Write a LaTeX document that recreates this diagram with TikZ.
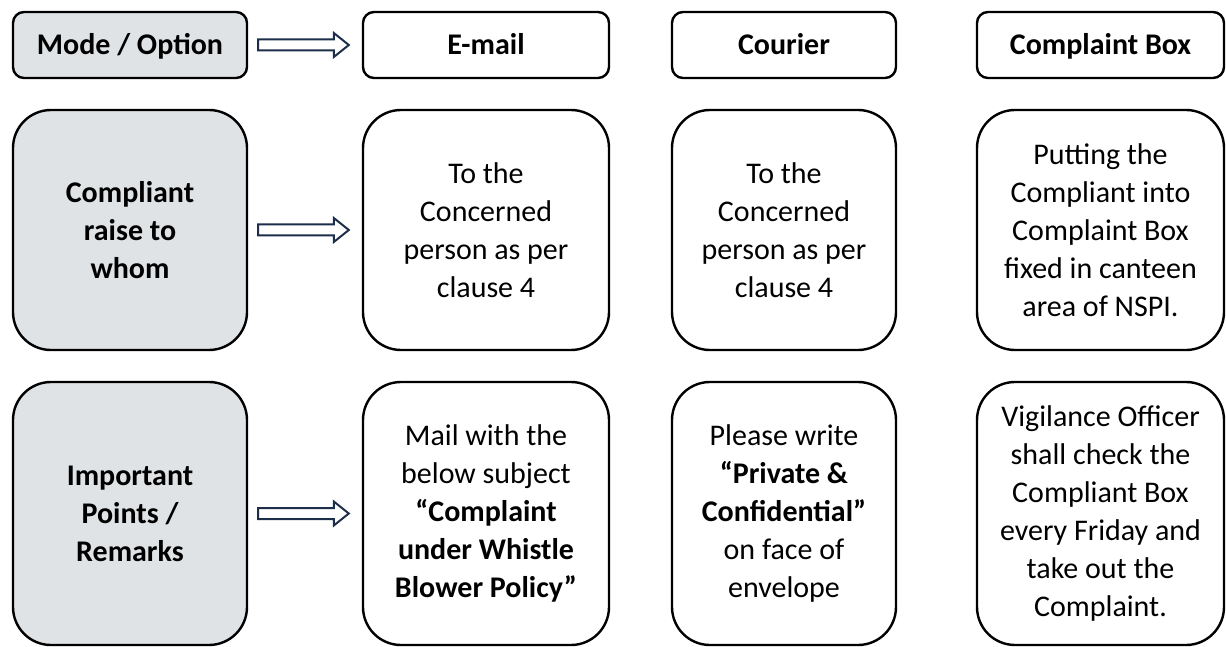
\documentclass[tikz,border=0pt]{standalone}
\usepackage{fontspec}
\setmainfont{Carlito}
\usetikzlibrary{calc}
\definecolor{boxgray}{RGB}{224,227,229}
\definecolor{arrownavy}{RGB}{28,46,74}
\newcommand\boxfont{\fontsize{30}{38}\selectfont}
\tikzset{
  base/.style={draw=black, line width=2.4pt, align=center, inner sep=0pt,
    font=\boxfont},
  headbox/.style={base, rounded corners=11pt, minimum height=66pt,
    text height=23.5pt, text depth=4.5pt, font=\boxfont\bfseries},
  bigbox/.style={base, rounded corners=38pt},
  labelbox/.style={fill=boxgray, font=\boxfont\bfseries},
  hollow/.style={draw=arrownavy, line width=2pt, fill=white, line join=miter}
}
% hollow block arrow from the east side of #1 to the west side of #2
\newcommand\hollowarrow[2]{%
  \draw[hollow] ($(#1.east)+(10,-5.5)$) -- ($(#2.west)+(-28,-5.5)$)
    -- ($(#2.west)+(-28,-12)$) -- ($(#2.west)+(-13,0)$)
    -- ($(#2.west)+(-28,12)$) -- ($(#2.west)+(-28,5.5)$)
    -- ($(#1.east)+(10,5.5)$) -- cycle;}
\begin{document}
\begin{tikzpicture}[x=1pt,y=-1pt]
\useasboundingbox (0,0) rectangle (1226,647);

% header row
\node[headbox, labelbox, minimum width=234pt] (mode) at (130,45) {Mode / Option};
\node[headbox, minimum width=246pt] (email) at (486,45) {E-mail};
\node[headbox, minimum width=224pt] (courier) at (784,45) {Courier};
\node[headbox, minimum width=247pt] (cbox) at (1100.5,45) {Complaint Box};

% second row
\node[bigbox, labelbox, minimum width=234pt, minimum height=240pt] (whom) at (130,230) {Compliant\\raise to\\whom};
\node[bigbox, minimum width=246pt, minimum height=240pt] (emailto) at (486,230) {To the\\Concerned\\person as per\\clause 4};
\node[bigbox, minimum width=224pt, minimum height=240pt] (courierto) at (784,230) {To the\\Concerned\\person as per\\clause 4};
\node[bigbox, minimum width=247pt, minimum height=240pt] (cboxto) at (1100.5,230) {Putting the\\Compliant into\\Complaint Box\\fixed in canteen\\area of NSPI.};

% third row
\node[bigbox, labelbox, minimum width=234pt, minimum height=263pt] (points) at (130,513.5) {Important\\Points /\\Remarks};
\node[bigbox, minimum width=246pt, minimum height=263pt] (emailpt) at (486,513.5) {Mail with the\\below subject\\\textbf{“Complaint}\\\textbf{under Whistle}\\\textbf{Blower Policy”}};
\node[bigbox, minimum width=224pt, minimum height=263pt] (courierpt) at (784,513.5) {Please write\\\textbf{“Private \&}\\\textbf{Confidential”}\\on face of\\envelope};
\node[bigbox, minimum width=247pt, minimum height=263pt] (cboxpt) at (1100.5,513.5) {Vigilance Officer\\shall check the\\Compliant Box\\every Friday and\\take out the\\Complaint.};

% arrows
\hollowarrow{mode}{email}
\hollowarrow{whom}{emailto}
\hollowarrow{points}{emailpt}
\end{tikzpicture}
\end{document}
